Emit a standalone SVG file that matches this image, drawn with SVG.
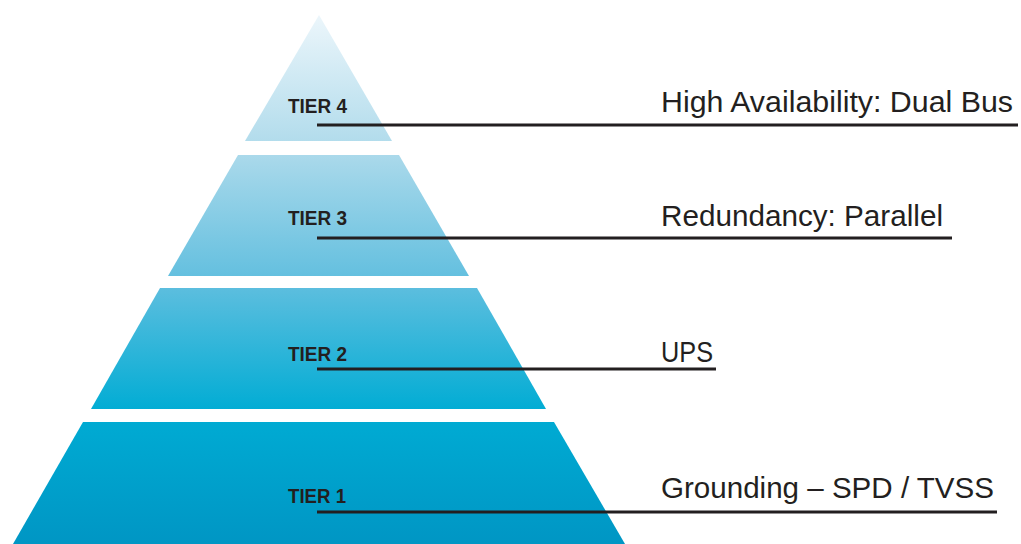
<svg xmlns="http://www.w3.org/2000/svg" width="1021" height="544" viewBox="0 0 1021 544">
<defs>
<linearGradient id="pg" gradientUnits="userSpaceOnUse" x1="0" y1="15" x2="0" y2="544">
<stop offset="0" stop-color="#ecf6fb"/>
<stop offset="0.24" stop-color="#b2dcec"/>
<stop offset="0.5" stop-color="#62bfdf"/>
<stop offset="0.75" stop-color="#00acd4"/>
<stop offset="1" stop-color="#0096c4"/>
</linearGradient>
<style>
.tier{fill:url(#pg);}
.tl{font-family:"Liberation Sans",Arial,sans-serif;font-weight:bold;font-size:19.5px;fill:#231f20;}
.lb{font-family:"Liberation Sans",Arial,sans-serif;font-size:30px;fill:#231f20;}
.ln{stroke:#231f20;stroke-width:3;fill:none;}
</style>
</defs>
<rect width="1021" height="544" fill="#ffffff"/>
<g id="tier4">
<polygon class="tier" points="319,15 392,141 245,141"/>
<text class="tl" x="288" y="113" textLength="59" lengthAdjust="spacingAndGlyphs">TIER 4</text>
</g>
<g id="tier3">
<polygon class="tier" points="238,155 399,155 469,276 168,276"/>
<text class="tl" x="288" y="225" textLength="59" lengthAdjust="spacingAndGlyphs">TIER 3</text>
</g>
<g id="tier2">
<polygon class="tier" points="160,288 477,288 546,409 91,409"/>
<text class="tl" x="288" y="361" textLength="59" lengthAdjust="spacingAndGlyphs">TIER 2</text>
</g>
<g id="tier1">
<polygon class="tier" points="83,422 554,422 625,544 13,544"/>
<text class="tl" x="288" y="503" textLength="58" lengthAdjust="spacingAndGlyphs">TIER 1</text>
</g>
<g id="connectors">
<line class="ln" x1="317" y1="125" x2="1018" y2="125"/>
<line class="ln" x1="317" y1="238" x2="952" y2="238"/>
<line class="ln" x1="317" y1="369" x2="716" y2="369"/>
<line class="ln" x1="317" y1="512" x2="997" y2="512"/>
</g>
<g id="label4"><text class="lb" x="661" y="112" textLength="352" lengthAdjust="spacingAndGlyphs">High Availability: Dual Bus</text></g>
<g id="label3"><text class="lb" x="661" y="226" textLength="282" lengthAdjust="spacingAndGlyphs">Redundancy: Parallel</text></g>
<g id="label2"><text class="lb" x="661" y="362" textLength="52" lengthAdjust="spacingAndGlyphs">UPS</text></g>
<g id="label1"><text class="lb" x="661" y="498" textLength="333" lengthAdjust="spacingAndGlyphs">Grounding – SPD / TVSS</text></g>
</svg>
